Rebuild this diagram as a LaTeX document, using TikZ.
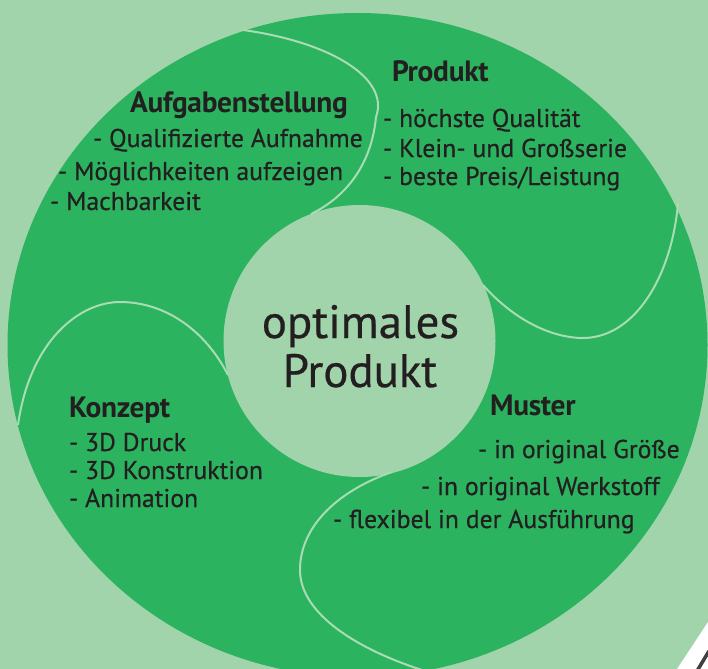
\documentclass[tikz,border=0pt]{standalone}
\usepackage{fontspec}
\setmainfont{PT Sans}
\newfontfamily\bodyfont[FakeBold=0.5]{PT Sans}
\newfontfamily\headfont[LetterSpace=-1]{PT Sans}
\definecolor{bgl}{RGB}{161,212,171}
\definecolor{gr}{RGB}{43,179,95}
\definecolor{tx}{RGB}{35,31,32}
\definecolor{seamc}{RGB}{170,220,180}
\begin{document}
\begin{tikzpicture}[x=1bp,y=-1bp,
  every node/.style={inner sep=0pt, outer sep=0pt, text=tx},
  body/.style={anchor=base west, font=\bodyfont\fontsize{25.8}{30}\selectfont},
  head/.style={anchor=base west, font=\headfont\bfseries\fontsize{29.5}{34}\selectfont},
  mid/.style={anchor=base, font=\bodyfont\fontsize{47}{52}\selectfont},
  seam/.style={draw=seamc, line width=2bp}]
\fill[bgl] (0,0) rectangle (708,669);
\useasboundingbox (0,0) rectangle (708,669);
% big disc
\fill[gr] (357.5,345) ellipse [x radius=350, y radius=332];
% inner circle
\fill[bgl] (359.5,341) circle [radius=136];
% seams
\coordinate (s1a) at (243,30);
\coordinate (s1b) at (376,117);
\coordinate (s1c) at (311,214);
\draw[seam] (s1a) .. controls (330,42) and (390,78) .. (s1b) .. controls (372,160) and (350,195) .. (s1c);
\coordinate (s2a) at (678,203);
\coordinate (s2b) at (580,338);
\coordinate (s2c) at (483,285);
\draw[seam] (s2a) .. controls (672,275) and (635,340) .. (s2b) .. controls (540,336) and (505,310) .. (s2c);
\coordinate (s3a) at (392,472);
\coordinate (s3b) at (300,570);
\coordinate (s3c) at (422,670);
\draw[seam] (s3a) .. controls (340,490) and (300,525) .. (s3b) .. controls (300,615) and (360,650) .. (s3c);
\coordinate (s4a) at (18,425);
\coordinate (s4b) at (120,302);
\coordinate (s4c) at (228,375);
\draw[seam] (s4a) .. controls (30,340) and (80,302) .. (s4b) .. controls (165,302) and (205,330) .. (s4c);
% corner decoration
\fill[white] (677,669) -- (708,622) -- (708,669) -- cycle;
\draw[black!75, line width=3.5bp] (697,671) -- (709,651);
% texts
\node[head] (h1) at (130,113) {Aufgabenstellung};
\node[body] (a1) at (93,147) {- Qualifizierte Aufnahme};
\node[body] (a2) at (58,180) {- Möglichkeiten aufzeigen};
\node[body] (a3) at (50,210) {- Machbarkeit};
\node[head] (h2) at (392,82) {Produkt};
\node[body] (b1) at (383,127) {- höchste Qualität};
\node[body] (b2) at (383,157) {- Klein- und Großserie};
\node[body] (b3) at (383,185) {- beste Preis/Leistung};
\node[head] (h3) at (69,417) {Konzept};
\node[body] (c1) at (69,451) {- 3D Druck};
\node[body] (c2) at (69,479) {- 3D Konstruktion};
\node[body] (c3) at (69,507) {- Animation};
\node[head] (h4) at (490,415) {Muster};
\node[body] (d1) at (478,458) {- in original Größe};
\node[body] (d2) at (421,495) {- in original Werkstoff};
\node[body] (d3) at (333,528) {- flexibel in der Ausführung};
\node[mid] (m1) at (360.5,338) {optimales};
\node[mid] (m2) at (360,387) {Produkt};
\end{tikzpicture}
\end{document}
